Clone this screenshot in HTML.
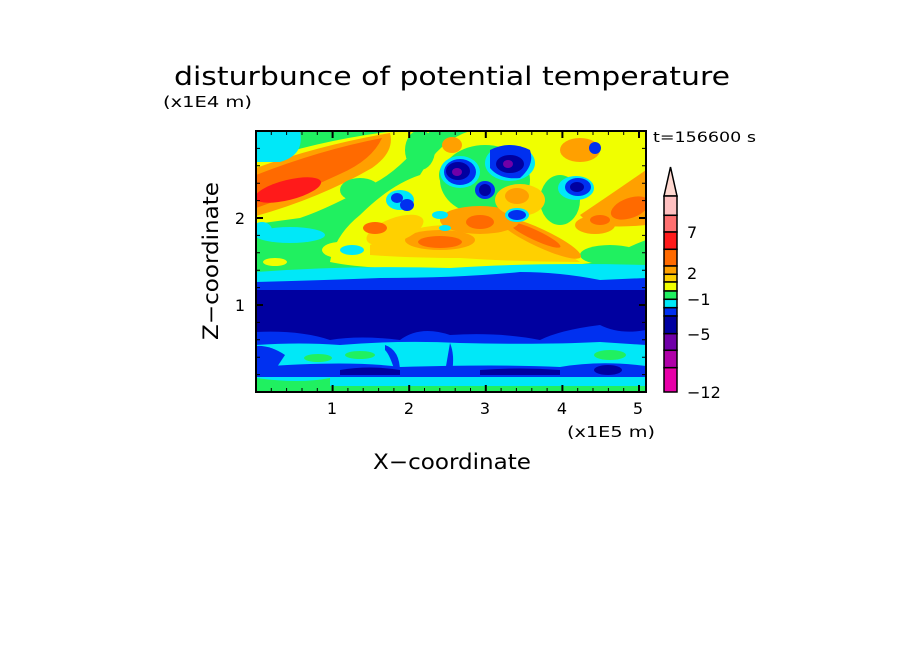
<!DOCTYPE html>
<html><head><meta charset="utf-8"><style>
html,body{margin:0;padding:0;background:#fff;}
svg{display:block;}
text{font-family:"DejaVu Sans","Liberation Sans",sans-serif;fill:#000;}
</style></head><body>
<svg width="904" height="654" viewBox="0 0 904 654" xmlns="http://www.w3.org/2000/svg">
<defs><clipPath id="c"><rect x="256" y="131" width="390" height="261"/></clipPath></defs>
<text x="174" y="85" font-size="26" textLength="556" lengthAdjust="spacingAndGlyphs">disturbunce of potential temperature</text>
<text x="163" y="107" font-size="15" textLength="89" lengthAdjust="spacingAndGlyphs">(x1E4 m)</text>
<text x="653" y="142" font-size="14" textLength="103" lengthAdjust="spacingAndGlyphs">t=156600 s</text>
<g clip-path="url(#c)">
<rect x="256" y="131" width="390" height="261" fill="#20f060"/>
<!-- broad yellow -->
<path d="M330 262 Q335 235 360 215 Q390 185 420 175 Q440 140 470 131 L646 131 L646 240 Q620 250 600 262 Q520 272 430 268 Q370 270 330 262 Z" fill="#f0ff00"/>
<path d="M256 162 Q320 140 395 131 L430 131 Q405 165 380 180 Q330 208 300 218 L256 224 Z" fill="#f0ff00"/>
<path d="M256 168 Q320 145 390 133 Q395 152 372 168 Q320 198 256 216 Z" fill="#ffa000"/>
<path d="M256 175 Q320 150 382 138 Q372 160 340 174 Q300 193 256 208 Z" fill="#ff6a00"/>
<ellipse cx="288" cy="190" rx="34" ry="10" transform="rotate(-14 288 190)" fill="#ff1a1a"/>
<!-- green holes in upper area -->
<ellipse cx="485" cy="180" rx="45" ry="35" fill="#20f060"/>
<ellipse cx="560" cy="200" rx="20" ry="25" fill="#20f060"/>
<ellipse cx="610" cy="255" rx="30" ry="10" fill="#20f060"/>
<ellipse cx="420" cy="150" rx="15" ry="20" fill="#20f060"/>
<ellipse cx="360" cy="190" rx="20" ry="12" fill="#20f060"/>
<path d="M370 245 Q410 225 450 225 Q500 220 540 240 Q570 255 580 262 Q520 262 460 258 Q410 258 370 255 Z" fill="#ffd000"/>
<ellipse cx="440" cy="240" rx="35" ry="10" fill="#ffa000"/>
<ellipse cx="440" cy="242" rx="22" ry="6" fill="#ff6a00"/>
<ellipse cx="540" cy="238" rx="45" ry="9" transform="rotate(25 540 238)" fill="#ffa000"/>
<ellipse cx="535" cy="235" rx="28" ry="5" transform="rotate(25 535 235)" fill="#ff6a00"/>
<ellipse cx="480" cy="220" rx="40" ry="14" fill="#ffa000"/>
<ellipse cx="480" cy="222" rx="14" ry="7" fill="#ff6a00"/>
<path d="M580 215 Q610 195 646 170 L646 225 Q620 228 590 225 Z" fill="#ffa000"/>
<ellipse cx="630" cy="208" rx="20" ry="10" transform="rotate(-20 630 208)" fill="#ff6a00"/>
<ellipse cx="595" cy="225" rx="20" ry="9" fill="#ffa000"/>
<ellipse cx="600" cy="220" rx="10" ry="5" fill="#ff6a00"/>
<ellipse cx="580" cy="150" rx="20" ry="12" fill="#ffa000"/>
<ellipse cx="452" cy="145" rx="10" ry="8" fill="#ffa000"/>
<ellipse cx="520" cy="200" rx="25" ry="16" fill="#ffd000"/>
<ellipse cx="517" cy="196" rx="12" ry="8" fill="#ffa000"/>
<ellipse cx="395" cy="230" rx="30" ry="12" transform="rotate(-20 395 230)" fill="#ffd000"/>
<ellipse cx="375" cy="228" rx="12" ry="6" fill="#ff6a00"/>
<ellipse cx="340" cy="250" rx="18" ry="8" fill="#f0ff00"/>
<!-- left cyan patches -->
<path d="M256 131 L300 131 Q305 155 280 162 L256 162 Z" fill="#00e8f8"/>
<ellipse cx="290" cy="235" rx="35" ry="8" fill="#00e8f8"/>
<ellipse cx="262" cy="230" rx="10" ry="8" fill="#00e8f8"/>
<ellipse cx="275" cy="262" rx="12" ry="4" fill="#f0ff00"/>
<!-- cool blobs -->
<ellipse cx="463" cy="175" rx="24" ry="20" fill="#20f060"/>
<ellipse cx="460" cy="172" rx="20" ry="16" fill="#00e8f8"/>
<ellipse cx="460" cy="172" rx="16" ry="13" fill="#0030f0"/>
<ellipse cx="458" cy="171" rx="12" ry="9" fill="#0000a0"/>
<ellipse cx="457" cy="172" rx="5" ry="4" fill="#7000a8"/>
<ellipse cx="510" cy="163" rx="25" ry="18" fill="#00e8f8"/>
<path d="M490 150 Q510 140 530 150 Q535 165 520 178 Q500 180 490 168 Z" fill="#0030f0"/>
<ellipse cx="510" cy="164" rx="14" ry="9" fill="#0000a0"/>
<ellipse cx="508" cy="164" rx="5" ry="4" fill="#7000a8"/>
<ellipse cx="485" cy="190" rx="10" ry="9" fill="#0030f0"/>
<ellipse cx="485" cy="190" rx="6" ry="6" fill="#0000a0"/>
<ellipse cx="517" cy="215" rx="12" ry="7" fill="#00e8f8"/>
<ellipse cx="517" cy="215" rx="9" ry="5" fill="#0030f0"/>
<ellipse cx="576" cy="188" rx="18" ry="12" fill="#00e8f8"/>
<ellipse cx="578" cy="187" rx="13" ry="9" fill="#0030f0"/>
<ellipse cx="577" cy="187" rx="7" ry="5" fill="#0000a0"/>
<ellipse cx="595" cy="148" rx="6" ry="6" fill="#0030f0"/>
<ellipse cx="400" cy="200" rx="14" ry="10" fill="#00e8f8"/>
<ellipse cx="397" cy="198" rx="6" ry="5" fill="#0030f0"/>
<ellipse cx="407" cy="205" rx="7" ry="6" fill="#0030f0"/>
<ellipse cx="440" cy="215" rx="8" ry="4" fill="#00e8f8"/>
<ellipse cx="445" cy="228" rx="6" ry="3" fill="#00e8f8"/>
<ellipse cx="352" cy="250" rx="12" ry="5" fill="#00e8f8"/>
<!-- lower bands -->
<path d="M256 272 Q350 265 450 268 Q540 262 646 265 L646 392 L256 392 Z" fill="#00e8f8"/>
<path d="M256 282 Q330 280 380 278 Q460 278 520 272 Q560 272 600 280 L646 278 L646 392 L256 392 Z" fill="#0030f0"/>
<path d="M256 290 L646 290 L646 330 Q620 335 600 325 Q560 330 540 340 Q500 332 450 335 Q420 325 400 340 Q360 335 330 340 Q300 330 256 332 Z" fill="#0000a0"/>
<path d="M256 345 Q300 342 340 345 Q400 340 460 343 Q540 345 600 342 L646 345 L646 372 L256 372 Z" fill="#00e8f8"/>
<path d="M256 346 Q270 345 285 355 L275 370 L256 370 Z" fill="#0030f0"/>
<path d="M385 345 Q400 350 400 372 L395 372 Q390 355 385 350 Z" fill="#0030f0"/>
<path d="M450 343 Q455 355 452 372 L445 372 Z" fill="#0030f0"/>
<ellipse cx="360" cy="355" rx="15" ry="4" fill="#20f060"/>
<ellipse cx="318" cy="358" rx="14" ry="4" fill="#20f060"/>
<ellipse cx="610" cy="355" rx="16" ry="5" fill="#20f060"/>
<path d="M256 367 Q350 360 400 367 Q500 364 560 367 Q600 360 646 366 L646 378 L256 378 Z" fill="#0030f0"/>
<path d="M340 370 Q370 365 400 370 L400 375 L340 375 Z" fill="#0000a0"/>
<path d="M480 370 Q520 367 560 370 L560 375 L480 375 Z" fill="#0000a0"/>
<ellipse cx="608" cy="370" rx="14" ry="5" fill="#0000a0"/>
<rect x="256" y="377" width="390" height="15" fill="#00e8f8"/>
<rect x="256" y="386" width="390" height="6" fill="#20f060"/>
<path d="M256 378 Q300 384 330 378 L330 386 L256 386 Z" fill="#20f060"/>
</g>
<rect x="256" y="131" width="390" height="261" fill="none" stroke="#000" stroke-width="2"/>
<g stroke="#000" stroke-width="1">
<path d="M271.3 392v-4M286.6 392v-4M302 392v-4M317.3 392v-4M347.9 392v-4M363.2 392v-4M378.6 392v-4M393.9 392v-4M424.5 392v-4M439.8 392v-4M455.2 392v-4M470.5 392v-4M501.1 392v-4M516.4 392v-4M531.8 392v-4M547.1 392v-4M577.7 392v-4M593 392v-4M608.4 392v-4M623.7 392v-4"/>
<path d="M271.3 131v4M286.6 131v4M302 131v4M317.3 131v4M347.9 131v4M363.2 131v4M378.6 131v4M393.9 131v4M424.5 131v4M439.8 131v4M455.2 131v4M470.5 131v4M501.1 131v4M516.4 131v4M531.8 131v4M547.1 131v4M577.7 131v4M593 131v4M608.4 131v4M623.7 131v4"/>
<path d="M256 374.6h4M256 357.2h4M256 339.8h4M256 322.4h4M256 287.6h4M256 270.2h4M256 252.8h4M256 235.4h4M256 200.6h4M256 183.2h4M256 165.8h4M256 148.4h4"/>
<path d="M646 374.6h-4M646 357.2h-4M646 339.8h-4M646 322.4h-4M646 287.6h-4M646 270.2h-4M646 252.8h-4M646 235.4h-4M646 200.6h-4M646 183.2h-4M646 165.8h-4M646 148.4h-4"/>
</g>
<g stroke="#000" stroke-width="2">
<path d="M332.6 392v-7M409.2 392v-7M485.8 392v-7M562.4 392v-7M639 392v-7M332.6 131v7M409.2 131v7M485.8 131v7M562.4 131v7M639 131v7"/>
<path d="M256 305h7M256 218h7M646 305h-7M646 218h-7"/>
</g>
<g font-size="16" text-anchor="middle">
<text x="332" y="414">1</text><text x="409" y="414">2</text><text x="485" y="414">3</text><text x="562" y="414">4</text><text x="638" y="414">5</text>
<text x="240" y="311">1</text><text x="240" y="224">2</text>
</g>
<text x="567" y="437" font-size="15" textLength="88" lengthAdjust="spacingAndGlyphs">(x1E5 m)</text>
<text x="373" y="469" font-size="21" textLength="158" lengthAdjust="spacingAndGlyphs">X−coordinate</text>
<text transform="translate(218 340) rotate(-90)" font-size="21" textLength="158" lengthAdjust="spacingAndGlyphs">Z−coordinate</text>
<g stroke="#000" stroke-width="1.5">
<path d="M664 196 L670.5 167 L677 196 Z" fill="#ffd8d0"/>
<rect x="664" y="196" width="13" height="19.3" fill="#ffc0c0"/>
<rect x="664" y="215.3" width="13" height="16.7" fill="#ff7070"/>
<rect x="664" y="232" width="13" height="17.3" fill="#ff1a1a"/>
<rect x="664" y="249.3" width="13" height="16.7" fill="#ff6a00"/>
<rect x="664" y="266" width="13" height="8.3" fill="#ffa000"/>
<rect x="664" y="274.3" width="13" height="7.7" fill="#ffd000"/>
<rect x="664" y="282" width="13" height="9" fill="#f0ff00"/>
<rect x="664" y="291" width="13" height="8.3" fill="#20f060"/>
<rect x="664" y="299.3" width="13" height="8.4" fill="#00e8f8"/>
<rect x="664" y="307.7" width="13" height="8.3" fill="#0030f0"/>
<rect x="664" y="316" width="13" height="17.7" fill="#0000a0"/>
<rect x="664" y="333.7" width="13" height="16.6" fill="#7000a8"/>
<rect x="664" y="350.3" width="13" height="17.4" fill="#b000a8"/>
<rect x="664" y="367.7" width="13" height="24.3" fill="#e800a8"/>
</g>
<g font-size="16">
<text x="687" y="238">7</text><text x="687" y="279">2</text>
<text x="687" y="305">−1</text><text x="687" y="340">−5</text><text x="687" y="398">−12</text>
</g>
</svg>
</body></html>
